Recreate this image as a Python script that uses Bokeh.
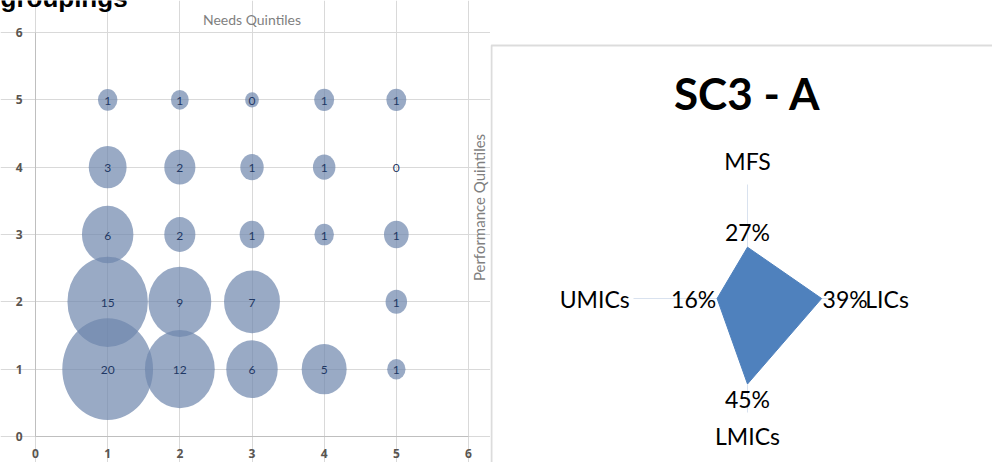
import math
from bokeh.plotting import figure
from bokeh.layouts import row
from bokeh.models import ColumnDataSource, BoxAnnotation, FixedTicker
from bokeh.core.properties import value
from bokeh.embed import file_html
from bokeh.resources import INLINE

# ---------------- data ----------------
# Bubble chart: Needs quintile (x) vs Performance quintile (y)
bubble_needs = [1, 2, 3, 4, 5,
                1, 2, 3, 4, 5,
                1, 2, 3, 4, 5,
                1, 2, 3, 5,
                1, 2, 3, 4, 5]
bubble_perf = [5, 5, 5, 5, 5,
               4, 4, 4, 4, 4,
               3, 3, 3, 3, 3,
               2, 2, 2, 2,
               1, 1, 1, 1, 1]
bubble_size = [0.9, 0.75, 0.45, 0.95, 0.95,
               3.4, 2.3, 1.3, 1.2, 0.0,
               6.3, 2.3, 1.45, 0.9, 1.45,
               15.4, 9.4, 7.45, 1.1,
               19.6, 11.6, 6.3, 4.8, 0.8]
bubble_label = ["1", "1", "0", "1", "1",
                "3", "2", "1", "1", "0",
                "6", "2", "1", "1", "1",
                "15", "9", "7", "1",
                "20", "12", "6", "5", "1"]
axis_ticks = [0, 1, 2, 3, 4, 5, 6]
x_title = "Needs Quintiles"
y_title = "Performance Quintiles"
heading = "groupings"

# Radar chart
radar_title = "SC3 - A"
radar_axes = ["MFS", "LICs", "LMICs", "UMICs"]
radar_values = [27, 39, 45, 16]          # percent
radar_max = 60

FONT = value("Lato")

# ---------------- bubble chart ----------------
W1, H1 = 490, 462
FL, FT, FR, FB = 35, 32, 468, 436           # plot-area box in pixels
XPX = (FR - FL) / 6.0
YPX = (FB - FT) / 6.0
p1 = figure(width=W1, height=H1,
            x_range=(-FL / XPX, (W1 - FL) / XPX),
            y_range=(-(H1 - FB) / YPX, FB / YPX),
            output_backend="svg", toolbar_location=None, min_border=0)
p1.background_fill_color = "white"
p1.border_fill_color = "white"
p1.outline_line_color = None
for ax in (p1.xaxis[0], p1.yaxis[0]):
    ax.fixed_location = 0
    ax.bounds = (0, 6)
    ax.ticker = FixedTicker(ticks=axis_ticks)
    ax.axis_line_color = "#bfbfbf"
    ax.major_tick_line_color = None
    ax.major_tick_out = 0
    ax.major_tick_in = 0
    ax.minor_tick_line_color = None
    ax.major_label_text_font = "Open Sans"
    ax.major_label_text_font_style = "bold"
    ax.major_label_text_font_size = "12px"
    ax.major_label_text_color = "#5a5550"
p1.yaxis.major_label_standoff = 13
p1.xaxis.major_label_standoff = 12
for g in (p1.xgrid[0], p1.ygrid[0]):
    g.ticker = FixedTicker(ticks=axis_ticks)
    g.bounds = (0, 6)
    g.grid_line_color = "#d9d9d9"

bw = [20.5 * math.sqrt(s) for s in bubble_size]
bh = [1.12 * w for w in bw]
src = ColumnDataSource(dict(x=bubble_needs, y=bubble_perf, w=bw, h=bh,
                            label=bubble_label))
p1.ellipse(x="x", y="y", width="w", height="h", width_units="screen",
           height_units="screen", source=src, fill_color="#6d86ad",
           fill_alpha=0.7, line_color=None)
p1.text(x="x", y="y", text="label", source=src, text_align="center",
        text_baseline="middle", text_font=FONT, text_font_size="12px",
        text_color="#1f3864", y_offset=1)

p1.text(x=[3], y=[(FB - 19) / YPX], text=[x_title], text_align="center",
        text_baseline="alphabetic", text_font=FONT, text_font_size="14px",
        text_color="#7f7f7f")
p1.text(x=[6 + 10 / XPX], y=[3 + 27 / YPX], text=[y_title], angle=math.pi / 2,
        text_align="center", text_baseline="middle", text_font=FONT,
        text_font_size="15px", text_color="#7f7f7f")
p1.text(x=[-FL / XPX], y=[(FB + 3) / YPX], text=[heading], text_align="left",
        text_baseline="alphabetic", text_font=value("Liberation Sans"),
        text_font_style="bold", text_font_size="26px", text_color="#000000")

# ---------------- radar chart ----------------
W2, H2 = 502, 462
CX, CY, PX = 257, 298, 1.9   # centre (px from left/top) and px per percent
p2 = figure(width=W2, height=H2,
            x_range=(-CX / PX, (W2 - CX) / PX),
            y_range=(-(H2 - CY) / PX, CY / PX),
            output_backend="svg", toolbar_location=None,
            x_axis_location=None, y_axis_location=None,
            min_border=0)
p2.grid.visible = False
p2.outline_line_color = None
p2.background_fill_color = "white"
p2.border_fill_color = "white"

angles = [math.pi / 2 - i * 2 * math.pi / len(radar_axes)
          for i in range(len(radar_axes))]
cosa = [math.cos(a) for a in angles]
sina = [math.sin(a) for a in angles]

# spokes
p2.segment(x0=[0] * len(angles), y0=[0] * len(angles),
           x1=[radar_max * c for c in cosa], y1=[radar_max * s for s in sina],
           line_color="#d9e2ef", line_width=1)

# data polygon
px = [v * c for v, c in zip(radar_values, cosa)]
py = [v * s for v, s in zip(radar_values, sina)]
p2.patch(px, py, fill_color="#4f81bd", line_color="#4f81bd", line_width=1)

def aligns(c, s):
    if c > 0.5:
        return "left", "middle"
    if c < -0.5:
        return "right", "middle"
    return "center", ("bottom" if s > 0 else "top")

al = [aligns(c, s) for c, s in zip(cosa, sina)]
vsrc = ColumnDataSource(dict(
    x=[x + 0.5 * c for x, c in zip(px, cosa)],
    y=[y + 0.5 * s for y, s in zip(py, sina)],
    t=[f"{v}%" for v in radar_values],
    a=[a[0] for a in al], b=[a[1] for a in al]))
p2.text(x="x", y="y", text="t", source=vsrc, text_align="a",
        text_baseline="b", text_font=FONT, text_font_size="23px",
        text_color="#000000")

lab_r = [62 + 3 * abs(s) for s in sina]
csrc = ColumnDataSource(dict(
    x=[r * c for r, c in zip(lab_r, cosa)],
    y=[r * s for r, s in zip(lab_r, sina)],
    t=radar_axes, a=[a[0] for a in al], b=[a[1] for a in al]))
p2.text(x="x", y="y", text="t", source=csrc, text_align="a",
        text_baseline="b", text_font=FONT, text_font_size="23px",
        text_color="#000000")

p2.text(x=[0], y=[(CY - 92) / PX], text=[radar_title], text_align="center",
        text_baseline="alphabetic", text_font=FONT, text_font_style="bold",
        text_font_size="44px", text_color="#000000")

# box border around the radar chart (left and top edges visible)
p2.add_layout(BoxAnnotation(left=(1 - CX) / PX, top=(CY - 45) / PX,
                            right=1000, bottom=-1000,
                            fill_color=None, line_color="#8c8c8c",
                            line_width=2))

layout = row(p1, p2)
open("out.html", "w").write(file_html(layout, INLINE))
